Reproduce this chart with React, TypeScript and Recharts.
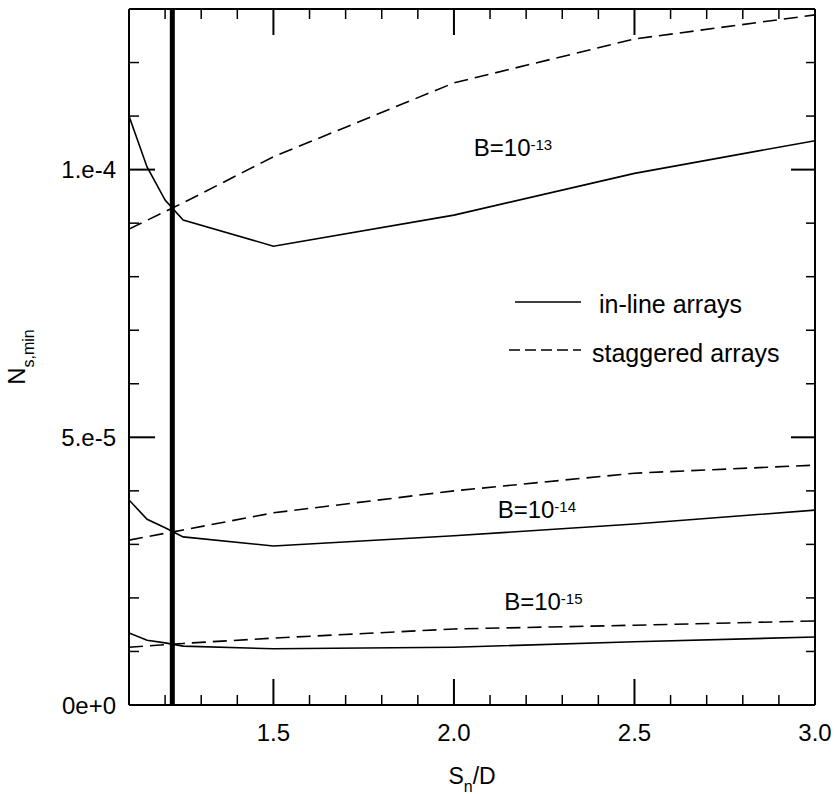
import React from "react";
import {
  LineChart,
  Line,
  XAxis,
  YAxis,
  ReferenceLine,
  ReferenceDot,
  Legend,
} from "recharts";

const FONT = '"Liberation Sans", Arial, Helvetica, sans-serif';

// S_n/D sample points
const inlineX = [1.1, 1.15, 1.2, 1.25, 1.5, 2.0, 2.5, 3.0];
const staggeredX = [1.1, 1.25, 1.5, 2.0, 2.5, 3.0];

// N_s,min for in-line arrays
const inline13 = [1.1e-4, 1.005e-4, 9.43e-5, 9.06e-5, 8.57e-5, 9.15e-5, 9.93e-5, 1.054e-4];
const inline14 = [3.83e-5, 3.47e-5, 3.31e-5, 3.14e-5, 2.97e-5, 3.16e-5, 3.38e-5, 3.64e-5];
const inline15 = [1.345e-5, 1.21e-5, 1.16e-5, 1.1e-5, 1.05e-5, 1.08e-5, 1.18e-5, 1.27e-5];

// N_s,min for staggered arrays
const staggered13 = [8.89e-5, 9.38e-5, 1.024e-4, 1.162e-4, 1.244e-4, 1.289e-4];
const staggered14 = [3.08e-5, 3.27e-5, 3.59e-5, 4.0e-5, 4.33e-5, 4.48e-5];
const staggered15 = [1.08e-5, 1.15e-5, 1.25e-5, 1.42e-5, 1.49e-5, 1.57e-5];

// axis ticks
const xMajor = [1.5, 2.0, 2.5, 3.0];
const xMinor = [1.2, 1.3, 1.4, 1.6, 1.7, 1.8, 1.9, 2.1, 2.2, 2.3, 2.4, 2.6, 2.7, 2.8, 2.9];
const yMajor = [0, 5e-5, 1e-4];
const yMinor = [1e-5, 2e-5, 3e-5, 4e-5, 6e-5, 7e-5, 8e-5, 9e-5, 1.1e-4, 1.2e-4];
const yLabels = ["0e+0", "5.e-5", "1.e-4"];
const yMax = 1.3e-4;

// marked spacing
const markX = 1.22;

// curve labels: [x, y, exponent]
const curveLabels: [number, number, string][] = [
  [2.055, 1.031e-4, "-13"],
  [2.121, 3.55e-5, "-14"],
  [2.139, 1.83e-5, "-15"],
];

const toPts = (xs: number[], ys: number[]) => xs.map((x, i) => ({ x, y: ys[i] }));

// in-line curves on the left axis, staggered ones on the (identical) right axis
const series = [
  { key: "i13", data: toPts(inlineX, inline13), dash: undefined, ya: "l" },
  { key: "i14", data: toPts(inlineX, inline14), dash: undefined, ya: "l" },
  { key: "i15", data: toPts(inlineX, inline15), dash: undefined, ya: "l" },
  { key: "s13", data: toPts(staggeredX, staggered13), dash: "14 7", ya: "r" },
  { key: "s14", data: toPts(staggeredX, staggered14), dash: "14 7", ya: "r" },
  { key: "s15", data: toPts(staggeredX, staggered15), dash: "14 7", ya: "r" },
];

// layout
const W = 836;
const H = 794;
const M = { top: 9, right: 20, bottom: 0, left: 0 };
const Y_AXIS_W = 129;
const X_AXIS_H = 89;
const PLOT_W = W - M.left - M.right - Y_AXIS_W - 1;
const PLOT_H = H - M.top - M.bottom - X_AXIS_H;

const MAJ = 26;
const MIN = 10;

// bottom tick + mirrored tick hanging from the top frame
const BottomTick = (p: any) => {
  const major = xMajor.includes(p.payload.value);
  const len = major ? MAJ : MIN;
  const sw = major ? 2 : 1.5;
  const top = p.y - PLOT_H;
  return (
    <g>
      <line x1={p.x} x2={p.x} y1={p.y} y2={p.y - len} stroke="#000" strokeWidth={sw} />
      <line x1={p.x} x2={p.x} y1={top} y2={top + len} stroke="#000" strokeWidth={sw} />
      {major && (
        <text x={p.x} y={p.y + 36} textAnchor="middle" fontSize={24} fontFamily={FONT} fill="#000">
          {p.payload.value.toFixed(1)}
        </text>
      )}
    </g>
  );
};

const LeftTick = (p: any) => {
  if (p.payload.value === yMax) {
    // top frame
    return <line x1={p.x} x2={p.x + PLOT_W} y1={p.y} y2={p.y} stroke="#000" strokeWidth={2} />;
  }
  const idx = yMajor.indexOf(p.payload.value);
  const major = idx >= 0;
  return (
    <g>
      <line x1={p.x} x2={p.x + (major ? MAJ : MIN)} y1={p.y} y2={p.y} stroke="#000" strokeWidth={major ? 2 : 1.5} />
      {major && (
        <text x={p.x - 13} y={p.y} dy="0.36em" textAnchor="end" fontSize={24} fontFamily={FONT} fill="#000">
          {yLabels[idx]}
        </text>
      )}
    </g>
  );
};

const RightTick = (p: any) => {
  const major = yMajor.includes(p.payload.value);
  return <line x1={p.x} x2={p.x - (major ? 24 : 9)} y1={p.y} y2={p.y} stroke="#000" strokeWidth={major ? 2 : 1.5} />;
};

const YTitle = (p: any) => {
  const vb = p.viewBox;
  const cx = vb.x + 25;
  const cy = vb.y + vb.height / 2;
  return (
    <text x={cx} y={cy} textAnchor="middle" transform={`rotate(-90, ${cx}, ${cy})`} fontSize={24} fontFamily={FONT} fill="#000">
      <tspan>N</tspan>
      <tspan dy={9} fontSize={16}>s,min</tspan>
    </text>
  );
};

const XTitle = (p: any) => {
  const vb = p.viewBox;
  return (
    <text x={vb.x + vb.width / 2} y={vb.y + 79} textAnchor="middle" fontSize={23} fontFamily={FONT} fill="#000">
      <tspan>S</tspan>
      <tspan dy={8} fontSize={16}>n</tspan>
      <tspan dy={-8}>/D</tspan>
    </text>
  );
};

const curveLabel = (exp: string) => (p: any) => {
  const vb = p.viewBox;
  return (
    <text x={vb.x} y={vb.y + 3} fontSize={24} fontFamily={FONT} fill="#000">
      <tspan>B=10</tspan>
      <tspan dy={-6} fontSize={15}>{exp}</tspan>
    </text>
  );
};

const LegendBox = () => (
  <svg width={330} height={100} style={{ display: "block" }}>
    <line x1={20} x2={86} y1={24} y2={24} stroke="#000" strokeWidth={1.6} />
    <text x={104} y={35} fontSize={25} fontFamily={FONT} fill="#000">in-line arrays</text>
    <line x1={14} x2={86} y1={72} y2={72} stroke="#000" strokeWidth={1.6} strokeDasharray="11 5" />
    <text x={97} y={84} fontSize={25} fontFamily={FONT} fill="#000">staggered arrays</text>
  </svg>
);

export default function App() {
  return (
    <div style={{ position: "absolute", left: 0, top: 0, width: W, height: H, background: "#fff" }}>
      <LineChart width={W} height={H} margin={M}>
        <XAxis
          xAxisId="b"
          type="number"
          dataKey="x"
          domain={[1.1, 3.0]}
          allowDataOverflow
          ticks={[...xMinor, ...xMajor]}
          interval={0}
          tickSize={0}
          tickMargin={0}
          tickLine={false}
          tick={BottomTick}
          axisLine={{ stroke: "#000", strokeWidth: 2 }}
          height={X_AXIS_H}
          label={{ content: XTitle }}
        />
        <YAxis
          yAxisId="l"
          type="number"
          domain={[0, yMax]}
          allowDataOverflow
          ticks={[...yMinor, ...yMajor, yMax]}
          interval={0}
          tickSize={0}
          tickMargin={0}
          tickLine={false}
          tick={LeftTick}
          axisLine={{ stroke: "#000", strokeWidth: 2 }}
          width={Y_AXIS_W}
          label={{ content: YTitle }}
        />
        <YAxis
          yAxisId="r"
          orientation="right"
          type="number"
          domain={[0, yMax]}
          allowDataOverflow
          ticks={[...yMinor, ...yMajor]}
          interval={0}
          tickSize={0}
          tickMargin={0}
          tickLine={false}
          tick={RightTick}
          axisLine={{ stroke: "#000", strokeWidth: 2 }}
          width={1}
        />
        {series.map((s) => (
          <Line
            key={s.key}
            xAxisId="b"
            yAxisId={s.ya}
            data={s.data}
            dataKey="y"
            type="linear"
            stroke="#000"
            strokeWidth={1.6}
            strokeDasharray={s.dash}
            dot={false}
            activeDot={false}
            isAnimationActive={false}
          />
        ))}
        <ReferenceLine xAxisId="b" yAxisId="l" x={markX} stroke="#000" strokeWidth={5} />
        {curveLabels.map(([x, y, exp]) => (
          <ReferenceDot
            key={exp}
            xAxisId="b"
            yAxisId="l"
            x={x}
            y={y}
            r={0}
            fill="none"
            stroke="none"
            label={{ content: curveLabel(exp) }}
          />
        ))}
        <Legend
          layout="vertical"
          verticalAlign="middle"
          align="center"
          wrapperStyle={{ left: 495, top: 278, width: 330, height: 100 }}
          content={LegendBox}
        />
      </LineChart>
    </div>
  );
}
